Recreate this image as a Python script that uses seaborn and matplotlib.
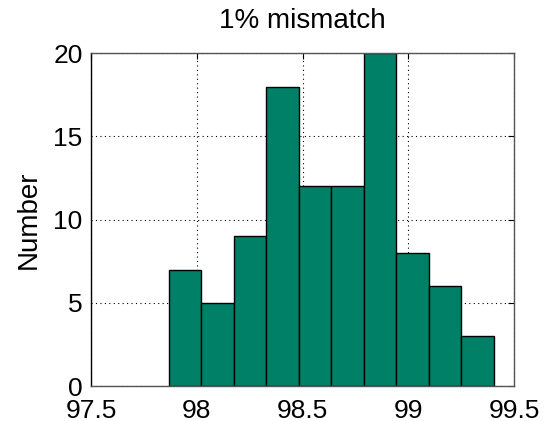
import numpy as np
import pandas as pd
import matplotlib
matplotlib.use("Agg")
import matplotlib.pyplot as plt
import seaborn as sns

# histogram: 10 bins, 100 samples
bin_start = 97.868
bin_width = 0.1534
counts = [7, 5, 9, 18, 12, 12, 20, 8, 6, 3]
xticks = [97.5, 98, 98.5, 99, 99.5]
xtick_labels = ["97.5", "98", "98.5", "99", "99.5"]
yticks = [0, 5, 10, 15, 20]

edges = bin_start + bin_width * np.arange(len(counts) + 1)
centers = (edges[:-1] + edges[1:]) / 2
df = pd.DataFrame({"match": centers, "n": counts})

sns.set_style("white")
plt.rcParams["font.family"] = ["Liberation Sans", "DejaVu Sans"]
plt.rcParams["text.color"] = "black"
plt.rcParams["axes.labelcolor"] = "black"

fig = plt.figure(figsize=(5.44, 4.21), dpi=100)
ax = fig.add_axes([0.1673, 0.0831, 0.7781, 0.7903])

sns.histplot(data=df, x="match", weights="n", bins=edges.tolist(), ax=ax,
             color="#008066", edgecolor="black", linewidth=1.0, alpha=1.0)

ax.set_xlim(97.5, 99.5)
ax.set_ylim(0, 20)
ax.set_xticks(xticks)
ax.set_xticklabels(xtick_labels)
ax.set_yticks(yticks)
ax.set_axisbelow(True)
ax.grid(True, linestyle=(0, (1, 3)), color="black", linewidth=0.8)
ax.tick_params(direction="in", length=4, width=0.8, labelsize=19,
               top=True, right=True, pad=6, colors="black")
ax.tick_params(axis="x", pad=9)
for s in ax.spines.values():
    s.set_visible(True)
    s.set_linewidth(1.0)
    s.set_color("#555555")
ax.spines["left"].set_color("black")

ax.set_xlabel("")
ax.set_ylabel("Number", fontsize=20, labelpad=8)
ax.set_title("1% mismatch", fontsize=20, pad=18, color="black")

fig.savefig("out.png", dpi=100)
